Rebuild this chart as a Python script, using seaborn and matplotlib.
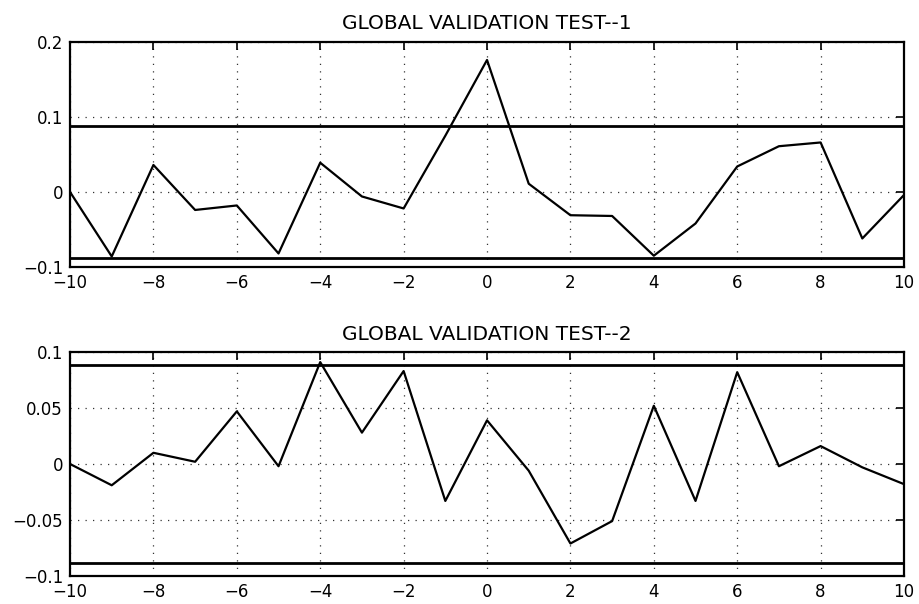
import numpy as np
import pandas as pd
import matplotlib
matplotlib.use("Agg")
import matplotlib.pyplot as plt
import seaborn as sns

lags = list(range(-10, 11))
test1 = [0.0, -0.086, 0.036, -0.024, -0.018, -0.082, 0.039, -0.006, -0.022, 0.075,
         0.176, 0.011, -0.031, -0.032, -0.085, -0.042, 0.034, 0.061, 0.066, -0.062, -0.004]
test2 = [0.0, -0.019, 0.010, 0.002, 0.047, -0.002, 0.091, 0.028, 0.083, -0.033,
         0.039, -0.006, -0.071, -0.051, 0.052, -0.033, 0.082, -0.002, 0.016, -0.003, -0.018]
bound = 0.088
titles = ["GLOBAL VALIDATION TEST--1", "GLOBAL VALIDATION TEST--2"]
yticks1 = [-0.1, 0, 0.1, 0.2]
ylabels1 = ["\u22120.1", "0", "0.1", "0.2"]
yticks2 = [-0.1, -0.05, 0, 0.05, 0.1]
ylabels2 = ["\u22120.1", "\u22120.05", "0", "0.05", "0.1"]
xticks = list(range(-10, 11, 2))
xlabels = [("\u2212" + str(-t)) if t < 0 else str(t) for t in xticks]

sns.set_style("white")
plt.rcParams['font.family'] = ['DejaVu Sans']

fig = plt.figure(figsize=(9.19, 6.04), dpi=100)
ax1 = fig.add_axes([0.0762, 0.558, 0.9075, 0.3725])
ax2 = fig.add_axes([0.0762, 0.0464, 0.9075, 0.3708])

panels = [(ax1, test1, titles[0], yticks1, ylabels1, (-0.1, 0.2)),
          (ax2, test2, titles[1], yticks2, ylabels2, (-0.1, 0.1))]

for ax, vals, title, yt, yl, ylim in panels:
    df = pd.DataFrame({'lag': lags, 'r': vals})
    sns.lineplot(data=df, x='lag', y='r', ax=ax, color='black', linewidth=1.6)
    ax.axhline(bound, color='black', linewidth=2)
    ax.axhline(-bound, color='black', linewidth=2)
    ax.set_xlim(-10, 10)
    ax.set_ylim(*ylim)
    ax.set_xticks(xticks)
    ax.set_xticklabels(xlabels)
    ax.set_yticks(yt)
    ax.set_yticklabels(yl)
    ax.set_xlabel('')
    ax.set_ylabel('')
    ax.grid(True, linestyle=(0, (1, 5)), color='black', linewidth=0.9, alpha=0.8)
    ax.tick_params(direction='in', length=6, width=1.2, top=True, right=True,
                   labelsize=12, colors='black', pad=5)
    for s in ax.spines.values():
        s.set_visible(True)
        s.set_color('black')
        s.set_linewidth(1.6)
    ax.set_title(title, fontsize=14.5, pad=9, color='black')

fig.savefig('out.png', dpi=100, facecolor='white')
